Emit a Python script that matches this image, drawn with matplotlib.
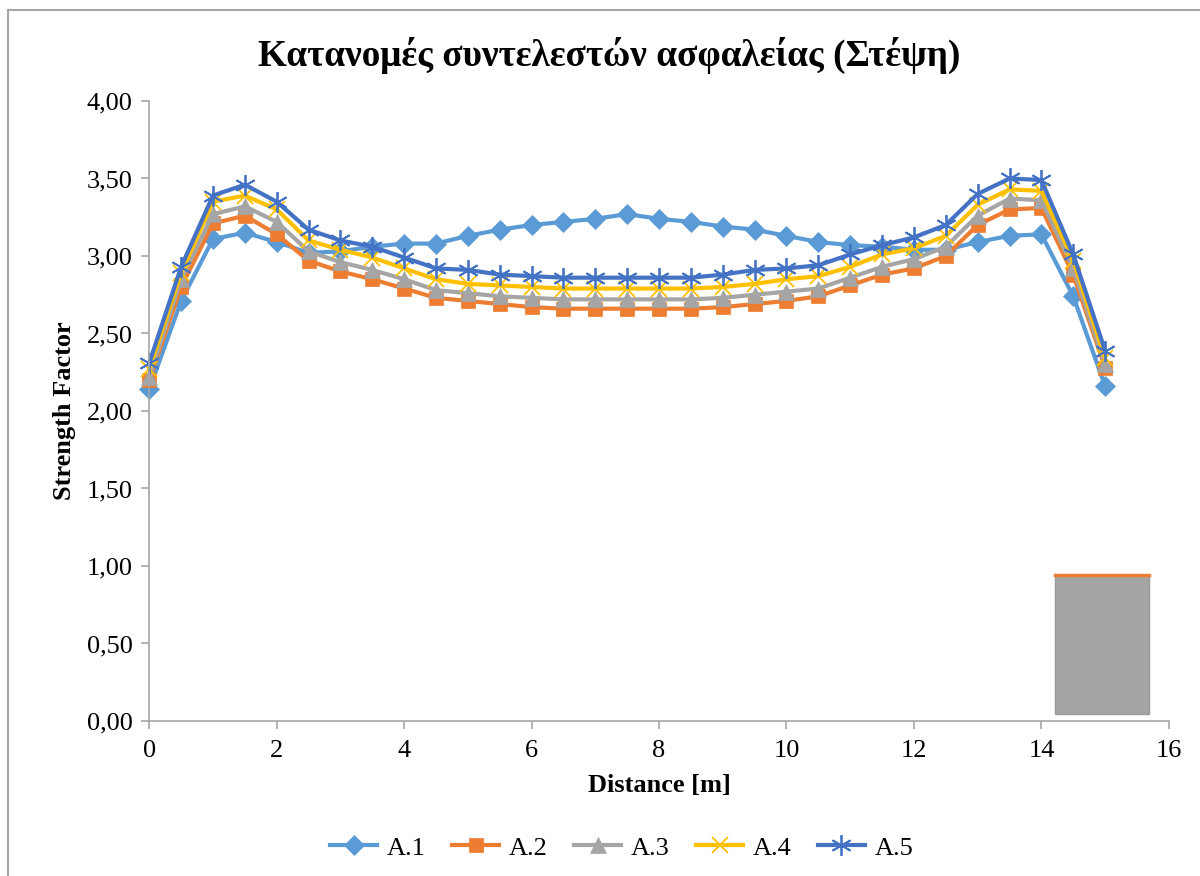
import matplotlib
matplotlib.use('Agg')
import matplotlib.pyplot as plt
from matplotlib.lines import Line2D
from matplotlib.patches import Rectangle
from matplotlib.ticker import FuncFormatter
import numpy as np

# distance along the section [m]
distance = [0, 0.5, 1, 1.5, 2, 2.5, 3, 3.5, 4, 4.5, 5, 5.5, 6, 6.5, 7, 7.5,
            8, 8.5, 9, 9.5, 10, 10.5, 11, 11.5, 12, 12.5, 13, 13.5, 14, 14.5, 15]

a1 = [2.14, 2.71, 3.11, 3.15, 3.09, 3.02, 3.03, 3.06, 3.08, 3.08, 3.13, 3.17, 3.20, 3.22, 3.24, 3.27,
      3.24, 3.22, 3.19, 3.17, 3.13, 3.09, 3.07, 3.06, 3.04, 3.04, 3.09, 3.13, 3.14, 2.74, 2.16]
a2 = [2.20, 2.80, 3.21, 3.26, 3.14, 2.97, 2.90, 2.85, 2.79, 2.73, 2.71, 2.69, 2.67, 2.66, 2.66, 2.66,
      2.66, 2.66, 2.67, 2.69, 2.71, 2.74, 2.81, 2.88, 2.92, 3.00, 3.20, 3.30, 3.31, 2.88, 2.28]
a3 = [2.22, 2.85, 3.27, 3.32, 3.22, 3.03, 2.96, 2.91, 2.85, 2.78, 2.76, 2.74, 2.73, 2.72, 2.72, 2.72,
      2.72, 2.72, 2.73, 2.75, 2.77, 2.79, 2.86, 2.93, 2.98, 3.06, 3.26, 3.37, 3.36, 2.92, 2.30]
a4 = [2.27, 2.89, 3.35, 3.39, 3.30, 3.10, 3.04, 2.99, 2.92, 2.85, 2.82, 2.81, 2.80, 2.79, 2.79, 2.79,
      2.79, 2.79, 2.80, 2.82, 2.85, 2.87, 2.93, 3.01, 3.05, 3.13, 3.33, 3.43, 3.42, 2.97, 2.34]
a5 = [2.31, 2.93, 3.39, 3.46, 3.35, 3.17, 3.10, 3.06, 2.99, 2.92, 2.91, 2.88, 2.87, 2.86, 2.86, 2.86,
      2.86, 2.86, 2.88, 2.91, 2.92, 2.94, 3.01, 3.07, 3.12, 3.20, 3.40, 3.50, 3.49, 3.01, 2.39]

names = ['A.1', 'A.2', 'A.3', 'A.4', 'A.5']
colors = ['#5B9BD5', '#ED7D31', '#A5A5A5', '#FFC000', '#4472C4']
markers = ['D', 's', '^', 'x', (6, 2, 0)]
msizes = [10, 10, 11, 11, 15]

# stray grey box in the lower right corner of the plot
box_x0, box_x1 = 14.21, 15.69
box_y0, box_y1 = 0.045, 0.94

plt.rcParams['font.family'] = ['Liberation Serif', 'DejaVu Serif']

fig = plt.figure(figsize=(12, 8.76), dpi=100)
ax = fig.add_axes([0.1244, 0.177, 0.8496, 0.7077])

def mew(m):
    return 1.3 if m in ('x', (6, 2, 0)) else 0.5

for ys, nm, c, m, ms in zip([a1, a2, a3, a4, a5], names, colors, markers, msizes):
    ax.plot(distance, ys, color=c, lw=3, marker=m, markersize=ms, markeredgewidth=mew(m),
            markeredgecolor=c, markerfacecolor=c, label=nm, clip_on=False)

ax.add_patch(Rectangle((box_x0, box_y0), box_x1 - box_x0, box_y1 - box_y0,
                       facecolor='#A5A5A5', edgecolor='#9a9a9a', lw=1, zorder=5))
ax.plot([box_x0, box_x1], [box_y1, box_y1], color='#ED7D31', lw=2.5, zorder=6)

ax.set_xlim(0, 16)
ax.set_ylim(0, 4)
ax.set_xticks(np.arange(0, 17, 2))
ax.set_yticks(np.arange(0, 4.01, 0.5))
ax.yaxis.set_major_formatter(FuncFormatter(lambda v, p: f'{v:.2f}'.replace('.', ',')))

for s in ['top', 'right']:
    ax.spines[s].set_visible(False)
for s in ['left', 'bottom']:
    ax.spines[s].set_color('#A6A6A6')
    ax.spines[s].set_linewidth(1.2)
ax.tick_params(axis='both', colors='#A6A6A6', length=6, width=1.2, labelsize=19,
               labelcolor='black')
ax.tick_params(axis='x', pad=8)
ax.tick_params(axis='y', pad=6)

ax.set_xlabel('Distance [m]', fontsize=19, fontweight='bold', labelpad=8)
ax.set_ylabel('Strength Factor', fontsize=19, fontweight='bold', labelpad=8)
fig.text(0.508, 0.937, 'Κατανομές συντελεστών ασφαλείας (Στέψη)', ha='center', va='center',
         fontsize=26.8, fontweight='bold')

handles = [Line2D([], [], color=c, lw=3, marker=m, markersize=ms, markeredgewidth=mew(m),
                  markeredgecolor=c, markerfacecolor=c)
           for c, m, ms in zip(colors, markers, msizes)]
fig.legend(handles, names, loc='center', bbox_to_anchor=(0.518, 0.032), ncol=5, frameon=False,
           fontsize=19, handlelength=1.8, handletextpad=0.35, columnspacing=1.0)

# chart area border (only left and top edges visible)
fig.add_artist(Line2D([8 / 1200, 8 / 1200], [0, 1 - 10 / 876], transform=fig.transFigure,
                      color='#A6A6A6', lw=1.5))
fig.add_artist(Line2D([8 / 1200, 1], [1 - 10 / 876, 1 - 10 / 876], transform=fig.transFigure,
                      color='#A6A6A6', lw=1.5))

fig.savefig('out.png', dpi=100)
